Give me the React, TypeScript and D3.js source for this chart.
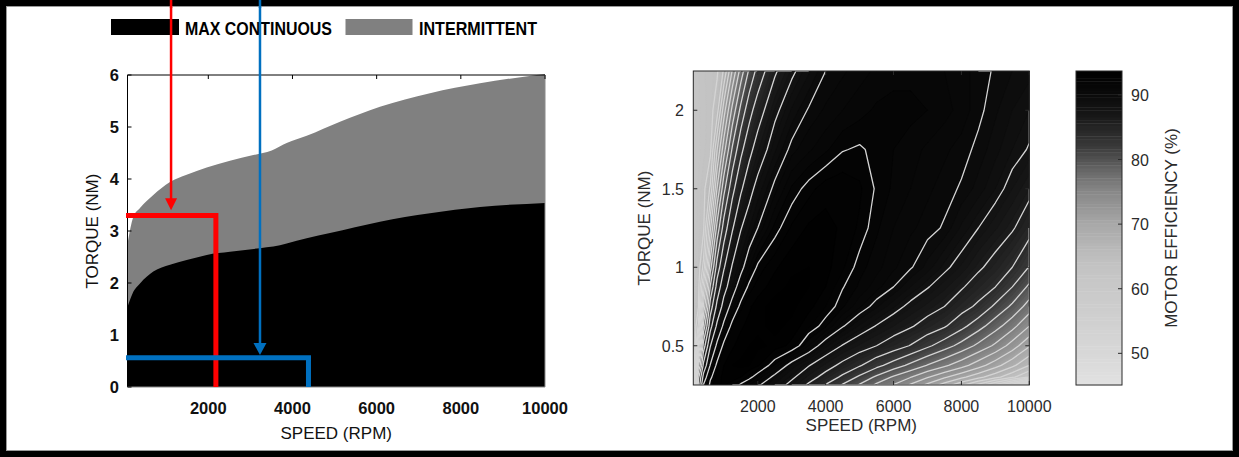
import * as d3 from "d3";
import { useMemo } from "react";

// ---------- left chart: torque / speed envelope ----------
const INT_SPEED = [80, 218, 377, 693, 1090, 1486, 1962, 2515, 3069, 3506, 3862, 4338, 5129, 6079, 7267, 8455, 9802, 10000];
const INT_TORQUE = [2.75, 3.27, 3.44, 3.69, 3.94, 4.08, 4.22, 4.35, 4.46, 4.55, 4.69, 4.83, 5.1, 5.39, 5.65, 5.84, 6.0, 6.02];
const CONT_SPEED = [80, 200, 377, 693, 1090, 1486, 1962, 2515, 3228, 3544, 3862, 4338, 4891, 6079, 7267, 8455, 10000];
const CONT_TORQUE = [1.54, 1.8, 1.99, 2.22, 2.35, 2.44, 2.54, 2.6, 2.67, 2.7, 2.76, 2.86, 2.96, 3.18, 3.34, 3.46, 3.54];
const LEFT_SPEED_TICKS = [2000, 4000, 6000, 8000, 10000];
const LEFT_TORQUE_TICKS = [0, 1, 2, 3, 4, 5, 6];
const LEGEND = ["MAX CONTINUOUS", "INTERMITTENT"];

// operating points drawn over the envelope: [speed, torque]
const RED_CORNER = [2180, 3.3];
const RED_ARROW = [1115, 3.4];
const BLUE_CORNER = [4380, 0.563];
const BLUE_ARROW = [3228, 0.615];

// ---------- right chart: efficiency map ----------
const EFF_SPEED = [100, 150, 250, 400, 600, 800, 1000, 1250, 1500, 1750, 2000, 2500, 3000, 3500, 4000, 4500, 5000, 5500, 6000, 6500, 7000, 7500, 8000, 8500, 9000, 9500, 10000];
const EFF_TORQUE = [0.25, 0.3, 0.375, 0.5, 0.625, 0.75, 0.875, 1.0, 1.25, 1.5, 1.75, 2.0, 2.25];
// efficiency (%) per torque row (bottom to top), per speed column
const EFFICIENCY = [
  [63.2, 74.3, 84.5, 90.1, 92.3, 92.9, 93.1, 92.6, 91.8, 91.0, 90.2, 88.9, 87.5, 85.7, 83.9, 81.8, 79.8, 77.6, 75.9, 73.7, 71.5, 69.1, 66.5, 63.4, 59.6, 55.0, 45.1],
  [62.8, 72.5, 83.5, 88.7, 91.8, 92.7, 93.2, 93.4, 93.0, 92.3, 91.4, 89.6, 88.3, 86.8, 85.3, 83.6, 81.6, 79.6, 77.7, 76.1, 74.2, 72.3, 70.5, 68.6, 66.7, 64.4, 61.8],
  [62.6, 66.5, 79.6, 86.5, 90.1, 92.4, 93.0, 93.5, 93.6, 93.5, 93.1, 91.4, 89.4, 88.1, 86.8, 85.5, 84.2, 82.6, 81.1, 79.5, 77.9, 76.4, 74.8, 72.9, 70.8, 68.5, 66.0],
  [62.3, 63.4, 72.6, 82.9, 87.9, 90.4, 92.4, 92.9, 93.3, 93.5, 93.6, 93.4, 92.8, 91.0, 89.2, 87.9, 86.9, 86.0, 85.0, 83.9, 82.4, 80.9, 79.3, 77.5, 75.6, 73.1, 70.2],
  [62.0, 63.0, 66.4, 78.7, 85.3, 88.4, 90.4, 92.5, 92.9, 93.2, 93.4, 93.6, 93.4, 92.6, 91.6, 90.1, 88.9, 87.9, 87.0, 86.2, 85.2, 84.2, 82.6, 80.8, 78.8, 76.7, 74.0],
  [62.0, 62.8, 63.9, 74.3, 82.9, 86.5, 88.7, 90.7, 92.4, 92.9, 93.3, 93.7, 93.6, 93.2, 92.5, 91.6, 90.6, 89.6, 88.6, 87.6, 86.8, 86.0, 84.8, 83.6, 81.6, 79.6, 77.1],
  [62.0, 62.5, 63.3, 70.6, 80.2, 84.8, 87.3, 89.1, 90.9, 92.3, 92.7, 93.3, 93.6, 93.5, 93.0, 92.05, 91.4, 90.7, 90.0, 89.0, 88.1, 87.2, 86.2, 85.1, 84.0, 82.0, 79.6],
  [62.0, 62.4, 63.0, 66.6, 77.2, 82.9, 85.8, 88.2, 89.5, 91.0, 92.2, 92.9, 93.4, 93.5, 93.2, 92.6, 91.7, 91.2, 90.6, 90.1, 89.3, 88.3, 87.4, 86.3, 85.3, 84.0, 81.9],
  [62.0, 62.3, 62.8, 63.6, 71.6, 78.7, 82.9, 85.8, 87.9, 89.0, 90.0, 91.7, 92.6, 93.1, 93.2, 92.9, 92.4, 91.6, 91.0, 90.6, 90.3, 89.9, 88.9, 88.0, 87.1, 86.2, 84.8],
  [62.0, 62.2, 62.6, 63.4, 66.3, 74.1, 79.4, 83.4, 85.7, 87.4, 88.6, 90.3, 91.6, 92.3, 92.8, 92.9, 92.6, 91.9, 91.4, 91.0, 90.6, 90.3, 89.9, 89.3, 88.5, 87.5, 86.5],
  [62.0, 62.1, 62.3, 62.8, 63.5, 69.9, 75.2, 80.3, 83.5, 85.4, 86.9, 88.9, 90.3, 90.9, 91.4, 91.95, 92.1, 91.8, 91.5, 91.2, 90.9, 90.6, 90.3, 89.8, 89.2, 88.5, 87.9],
  [62.0, 62.1, 62.4, 62.8, 63.3, 65.1, 71.1, 76.6, 80.6, 83.3, 85.0, 87.6, 89.1, 90.1, 90.6, 91.0, 91.3, 91.6, 91.7, 91.7, 91.5, 91.2, 90.8, 90.2, 89.6, 89.0, 88.5],
  [62.0, 62.2, 62.5, 62.9, 63.3, 63.7, 66.3, 72.2, 76.9, 80.4, 82.7, 85.7, 87.7, 88.9, 90.0, 90.4, 90.8, 91.1, 91.3, 91.3, 91.2, 91.0, 90.7, 90.3, 89.9, 89.5, 89.2],
];
const RIGHT_SPEED_TICKS = [2000, 4000, 6000, 8000, 10000];
const RIGHT_TORQUE_TICKS = [0.5, 1, 1.5, 2];
const CBAR_TICKS = [50, 60, 70, 80, 90];
const EFF_RANGE = [45.1, 93.7];

// grey colormap (efficiency -> grey level)
const CMAP_EFF = [45, 50, 55, 60, 64, 67, 70, 72, 75, 78, 80, 82, 85, 87, 90, 93.7];
const CMAP_GREY = [226, 216, 208, 201, 194, 181, 168, 154, 136, 106, 82, 58, 36, 22, 10, 0];

const W = 1239;
const H = 457;
const FONT = "'Liberation Sans', Arial, Helvetica, sans-serif";

export default function App() {
  // left scales
  const xL = d3.scaleLinear().domain([80, 10000]).range([127.5, 545]);
  const yL = d3.scaleLinear().domain([0, 6]).range([387, 75]);

  // right scales
  const xR = d3.scaleLinear().domain([EFF_SPEED[0], EFF_SPEED[EFF_SPEED.length - 1]]).range([693.3, 1029.3]);
  const yR = d3.scaleLinear().domain([EFF_TORQUE[0], EFF_TORQUE[EFF_TORQUE.length - 1]]).range([385, 71]);
  const yC = d3.scaleLinear().domain(EFF_RANGE).range([385, 71]);

  const grey = d3.scaleLinear().domain(CMAP_EFF).range(CMAP_GREY).clamp(true);
  const colorOf = (v: number) => {
    const g = Math.round(grey(v));
    return `rgb(${g},${g},${g})`;
  };

  const area = d3
    .area<number[]>()
    .x((d) => xL(d[0]))
    .y0(yL(0))
    .y1((d) => yL(d[1]))
    .curve(d3.curveMonotoneX);
  const intPath = area(INT_SPEED.map((s, i) => [s, INT_TORQUE[i]]))!;
  const contPath = area(CONT_SPEED.map((s, i) => [s, CONT_TORQUE[i]]))!;

  const { fills, lines } = useMemo(() => {
    const nx = EFF_SPEED.length;
    const ny = EFF_TORQUE.length;
    const colToSpeed = d3.scaleLinear().domain(d3.range(nx)).range(EFF_SPEED).clamp(true);
    const rowToTorque = d3.scaleLinear().domain(d3.range(ny)).range(EFF_TORQUE).clamp(true);
    const pt = (p: number[]) => [xR(colToSpeed(p[0] - 0.5)), yR(rowToTorque(p[1] - 0.5))];
    const values = EFFICIENCY.flat();

    const fillLevels = d3.range(45, 94, 0.5);
    const lineLevels = d3.range(46, 93, 2);

    const bands = d3.contours().size([nx, ny]).thresholds(fillLevels)(values);
    const isos = d3.contours().size([nx, ny]).thresholds(lineLevels)(values);

    const fills = bands.map((g) => {
      let d = "";
      for (const poly of g.coordinates)
        for (const ring of poly) {
          d += "M" + ring.map((p) => pt(p).map((v) => v.toFixed(2)).join(",")).join("L") + "Z";
        }
      return { d, fill: colorOf(g.value + 0.25) };
    });

    // isolines: drop the segments that run along the grid frame
    const onFrame = (a: number[], b: number[]) =>
      (a[0] === 0 && b[0] === 0) ||
      (a[0] === nx && b[0] === nx) ||
      (a[1] === 0 && b[1] === 0) ||
      (a[1] === ny && b[1] === ny);
    const lines = isos.map((g) => {
      let d = "";
      for (const poly of g.coordinates)
        for (const ring of poly) {
          let pen = false;
          for (let i = 0; i < ring.length - 1; i++) {
            const a = ring[i];
            const b = ring[i + 1];
            if (onFrame(a, b)) {
              pen = false;
              continue;
            }
            const pa = pt(a);
            const pb = pt(b);
            if (!pen) {
              d += `M${pa[0].toFixed(2)},${pa[1].toFixed(2)}`;
              pen = true;
            }
            d += `L${pb[0].toFixed(2)},${pb[1].toFixed(2)}`;
          }
        }
      return d;
    });
    return { fills, lines };
  }, []);

  const cbarSteps = d3.range(EFF_RANGE[0], EFF_RANGE[1], 0.5);

  const [l0, l1] = xL.range();
  const [b0, t0] = yL.range();
  const [r0, r1] = xR.range();
  const [rb, rt] = yR.range();
  const cx0 = 1076;
  const cx1 = 1122;

  const redX = xL(RED_CORNER[0]);
  const redY = yL(RED_CORNER[1]);
  const redAX = xL(RED_ARROW[0]);
  const redAY = yL(RED_ARROW[1]);
  const blueX = xL(BLUE_CORNER[0]);
  const blueY = yL(BLUE_CORNER[1]);
  const blueAX = xL(BLUE_ARROW[0]);
  const blueAY = yL(BLUE_ARROW[1]);

  return (
    <svg
      width={W}
      height={H}
      viewBox={`0 0 ${W} ${H}`}
      style={{ position: "absolute", left: 0, top: 0 }}
      fontFamily={FONT}
    >
      <rect width={W} height={H} fill="#fff" />

      {/* ---------- left chart ---------- */}
      <path d={intPath} fill="#808080" />
      <path d={contPath} fill="#000" />
      <line x1={l0} x2={l1} y1={t0} y2={t0} stroke="#000" />
      <line x1={l0} x2={l0} y1={t0} y2={b0} stroke="#000" />
      <line x1={l1} x2={l1} y1={t0} y2={b0} stroke="#8a8a8a" />
      <line x1={l0} x2={l1} y1={b0} y2={b0} stroke="#8a8a8a" />
      {LEFT_SPEED_TICKS.map((t) => (
        <g key={t}>
          <line x1={xL(t)} x2={xL(t)} y1={t0} y2={t0 + 4} stroke="#000" />
          <text x={xL(t)} y={414} textAnchor="middle" fontSize={16.5} fontWeight="bold" fill="#111">
            {t}
          </text>
        </g>
      ))}
      {LEFT_TORQUE_TICKS.map((t) => (
        <g key={t}>
          <line x1={l0} x2={l0 + 4} y1={yL(t)} y2={yL(t)} stroke="#000" />
          <text x={119} y={yL(t) + 6} textAnchor="end" fontSize={16.5} fontWeight="bold" fill="#111">
            {t}
          </text>
        </g>
      ))}
      <text x={(l0 + l1) / 2} y={439} textAnchor="middle" fontSize={17} fill="#111">
        SPEED (RPM)
      </text>
      <text transform={`translate(98,${(t0 + b0) / 2}) rotate(-90)`} textAnchor="middle" fontSize={17} fill="#111">
        TORQUE (NM)
      </text>

      {/* legend */}
      <rect x={111} y={19} width={68} height={16} fill="#000" />
      <text x={185} y={34.5} fontSize={17.5} fontWeight="bold" textLength={147} lengthAdjust="spacingAndGlyphs">
        {LEGEND[0]}
      </text>
      <rect x={345.5} y={19} width={67} height={16} fill="#808080" />
      <text x={419} y={34.5} fontSize={17.5} fontWeight="bold" textLength={118} lengthAdjust="spacingAndGlyphs">
        {LEGEND[1]}
      </text>

      {/* operating points */}
      <path
        d={`M${l0 - 1.5},${redY}H${redX}V${b0}`}
        fill="none"
        stroke="#ff0000"
        strokeWidth={5}
        strokeLinejoin="miter"
      />
      <line x1={redAX} x2={redAX} y1={0} y2={redAY - 10} stroke="#ff0000" strokeWidth={2.5} />
      <polygon points={`${redAX - 6},${redAY - 12} ${redAX + 6},${redAY - 12} ${redAX},${redAY}`} fill="#ff0000" />
      <path
        d={`M${l0 - 1.5},${blueY}H${blueX}V${b0}`}
        fill="none"
        stroke="#0070c0"
        strokeWidth={5}
        strokeLinejoin="miter"
      />
      <line x1={blueAX} x2={blueAX} y1={0} y2={blueAY - 10} stroke="#0070c0" strokeWidth={2.5} />
      <polygon points={`${blueAX - 6.5},${blueAY - 12} ${blueAX + 6.5},${blueAY - 12} ${blueAX},${blueAY}`} fill="#0070c0" />

      {/* ---------- right chart ---------- */}
      <defs>
        <clipPath id="mapClip">
          <rect x={r0} y={rt} width={r1 - r0} height={rb - rt} />
        </clipPath>
      </defs>
      <g clipPath="url(#mapClip)">
        {fills.map((f, i) => (
          <path key={i} d={f.d} fill={f.fill} stroke={f.fill} strokeWidth={0.3} fillRule="evenodd" />
        ))}
        {lines.map((d, i) => (
          <path key={i} d={d} fill="none" stroke="#d4d4d4" strokeWidth={1.3} strokeLinejoin="round" />
        ))}
      </g>
      <rect x={r0} y={rt} width={r1 - r0} height={rb - rt} fill="none" stroke="#2b2b2b" />
      {RIGHT_SPEED_TICKS.map((t) => (
        <g key={t}>
          <line x1={xR(t)} x2={xR(t)} y1={rb} y2={rb - 4} stroke="#2b2b2b" />
          <line x1={xR(t)} x2={xR(t)} y1={rt} y2={rt + 4} stroke="#2b2b2b" />
          <text x={xR(t)} y={412} textAnchor="middle" fontSize={16} fill="#2b2b2b">
            {t}
          </text>
        </g>
      ))}
      {RIGHT_TORQUE_TICKS.map((t) => (
        <g key={t}>
          <line x1={r0} x2={r0 + 4} y1={yR(t)} y2={yR(t)} stroke="#2b2b2b" />
          <line x1={r1} x2={r1 - 4} y1={yR(t)} y2={yR(t)} stroke="#2b2b2b" />
          <text x={684} y={yR(t) + 6} textAnchor="end" fontSize={16} fill="#2b2b2b">
            {t}
          </text>
        </g>
      ))}
      <text x={(r0 + r1) / 2} y={431} textAnchor="middle" fontSize={17} fill="#2b2b2b">
        SPEED (RPM)
      </text>
      <text transform={`translate(650,${(rt + rb) / 2}) rotate(-90)`} textAnchor="middle" fontSize={17} fill="#2b2b2b">
        TORQUE (NM)
      </text>

      {/* colorbar */}
      {cbarSteps.map((v) => (
        <rect
          key={v}
          x={cx0}
          y={yC(Math.min(v + 0.5, EFF_RANGE[1]))}
          width={cx1 - cx0}
          height={yC(v) - yC(Math.min(v + 0.5, EFF_RANGE[1])) + 0.4}
          fill={colorOf(v + 0.25)}
        />
      ))}
      <rect x={cx0} y={yC(EFF_RANGE[1])} width={cx1 - cx0} height={yC(EFF_RANGE[0]) - yC(EFF_RANGE[1])} fill="none" stroke="#2b2b2b" />
      {CBAR_TICKS.map((t) => (
        <g key={t}>
          <line x1={cx1} x2={cx1 - 4} y1={yC(t)} y2={yC(t)} stroke="#2b2b2b" />
          <text x={1131} y={yC(t) + 6} fontSize={16} fill="#2b2b2b">
            {t}
          </text>
        </g>
      ))}
      <text transform={`translate(1177,${(rt + rb) / 2}) rotate(-90)`} textAnchor="middle" fontSize={17} fill="#2b2b2b">
        MOTOR EFFICIENCY (%)
      </text>

      {/* outer frame */}
      <rect x={3} y={3} width={W - 6} height={H - 6} fill="none" stroke="#000" strokeWidth={6} />
      <rect x={6.5} y={6.5} width={W - 13} height={H - 13} fill="none" stroke="#9a9a9a" strokeWidth={1} />
      {/* arrows start above the frame */}
      <line x1={redAX} x2={redAX} y1={0} y2={8} stroke="#ff0000" strokeWidth={2.5} />
      <line x1={blueAX} x2={blueAX} y1={0} y2={8} stroke="#0070c0" strokeWidth={2.5} />
    </svg>
  );
}
